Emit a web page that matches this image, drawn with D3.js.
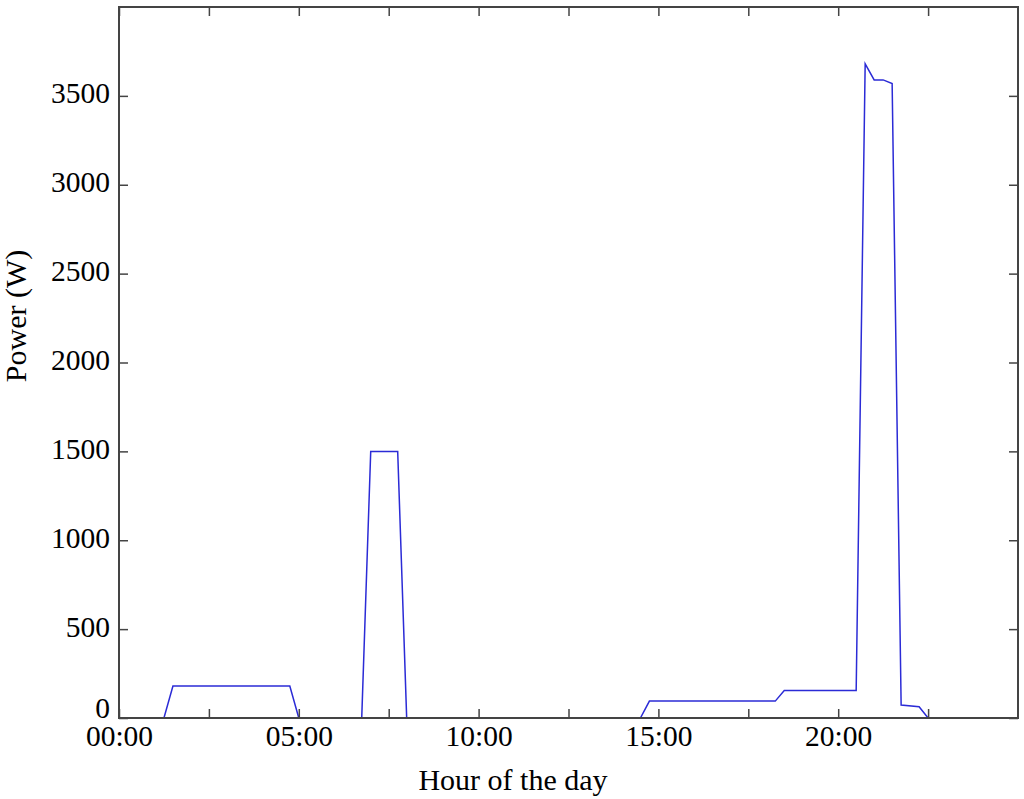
<!DOCTYPE html>
<html>
  <head>
    <title>Power by hour of the day</title>
    <script src="https://d3js.org/d3.v7.min.js"></script>
    <style>
      body { margin: 0; background: #fff; }
      text { font-family: "Liberation Serif", "Times New Roman", serif; fill: #000; }
    </style>
  </head>
  <body>
    <svg id="chart" width="1024" height="799"></svg>

    <script>
      // readings, one every 15 minutes where the load changes
      var hours = [0, 1.25, 1.5, 4.75, 5.0, 6.75, 7.0, 7.75, 8.0, 14.5, 14.75, 18.25, 18.5,
                   20.5, 20.75, 21.0, 21.25, 21.5, 21.75, 22.25, 22.5, 24];
      var watts = [0, 0, 180, 180, 0, 0, 1500, 1500, 0, 0, 95, 95, 155,
                   155, 3680, 3590, 3590, 3570, 73, 63, 0, 0];

      var xTicks = [0, 2.5, 5, 7.5, 10, 12.5, 15, 17.5, 20, 22.5];
      var xLabels = ["00:00", "", "05:00", "", "10:00", "", "15:00", "", "20:00", ""];
      var yTicks = [0, 500, 1000, 1500, 2000, 2500, 3000, 3500];

      drawChart();

      function drawChart() {
        var svg = d3.select("#chart");
        var plotLeft = 119, plotRight = 1018, plotTop = 7, plotBottom = 718;

        var x = d3.scaleLinear().domain([0, 25]).range([plotLeft, plotRight]);
        var y = d3.scaleLinear().domain([0, 4000]).range([plotBottom, plotTop]);

        var frameColor = "#444";

        // line first, so the frame covers the runs at zero
        var line = d3.line()
          .x((d, i) => x(hours[i]))
          .y(d => y(d));

        svg.append("path")
          .datum(watts)
          .attr("d", line)
          .attr("fill", "none")
          .attr("stroke", "#2b2bd6")
          .attr("stroke-width", 1.5)
          .attr("stroke-linejoin", "miter");

        svg.append("g")
          .attr("transform", "translate(0," + plotBottom + ")")
          .call(d3.axisBottom(x)
            .tickValues(xTicks)
            .tickFormat((d, i) => xLabels[i])
            .tickSize(-9).tickSizeOuter(0).tickPadding(7));

        svg.append("g")
          .attr("transform", "translate(0," + plotTop + ")")
          .call(d3.axisTop(x).tickValues(xTicks).tickFormat("").tickSize(-9).tickSizeOuter(0));

        var gy = svg.append("g")
          .attr("transform", "translate(" + plotLeft + ",0)")
          .call(d3.axisLeft(y).tickValues(yTicks).tickFormat(d3.format("d"))
            .tickSize(-9).tickSizeOuter(0).tickPadding(9));

        svg.append("g")
          .attr("transform", "translate(" + plotRight + ",0)")
          .call(d3.axisRight(y).tickValues(yTicks).tickFormat("").tickSize(-9).tickSizeOuter(0));

        svg.selectAll(".domain").remove();
        svg.selectAll(".tick line").attr("stroke", frameColor).attr("stroke-width", 1.5);
        svg.selectAll(".tick text").style("font-size", "29.5px").attr("fill", "#000");
        gy.selectAll(".tick text").attr("dy", "0.24em");
        // the zero label sits a bit higher, clear of the time labels
        gy.selectAll(".tick text").filter(d => d === 0).attr("y", -8);

        svg.append("rect")
          .attr("x", plotLeft).attr("y", plotTop)
          .attr("width", plotRight - plotLeft).attr("height", plotBottom - plotTop)
          .attr("fill", "none")
          .attr("stroke", frameColor)
          .attr("stroke-width", 2);

        svg.append("text")
          .attr("x", 513)
          .attr("y", 790)
          .attr("text-anchor", "middle")
          .style("font-size", "30px")
          .text("Hour of the day");

        svg.append("text")
          .attr("transform", "translate(26,316) rotate(-90)")
          .attr("text-anchor", "middle")
          .style("font-size", "30px")
          .text("Power (W)");
      }
    </script>
  </body>
</html>
